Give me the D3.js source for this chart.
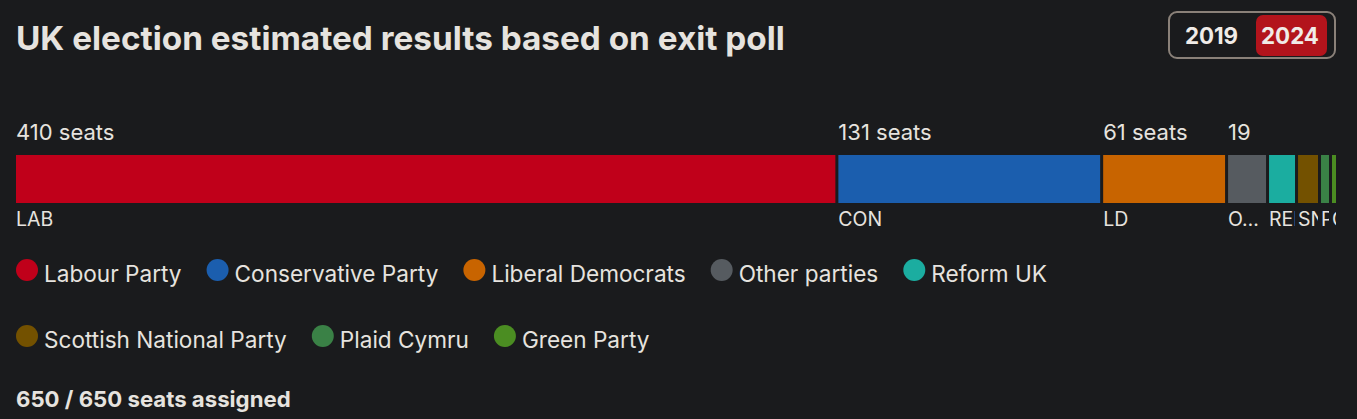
<!DOCTYPE html>
<html>
<head>
<meta charset="utf-8">
<script src="https://cdn.jsdelivr.net/npm/d3@7/dist/d3.min.js"></script>
<style>
  html, body { margin: 0; padding: 0; background: #1a1b1d; }
  svg { display: block; }
  text { font-family: Inter, "Noto Sans", sans-serif; }
</style>
</head>
<body>
<svg id="chart" width="1357" height="419"></svg>
<script>
// ---- data ----
const parties = ["Labour Party", "Conservative Party", "Liberal Democrats", "Other parties", "Reform UK", "Scottish National Party", "Plaid Cymru", "Green Party"];
const abbrevs = ["LAB", "CON", "LD", "OTH", "REF", "SNP", "PC", "GRN"];
const seats = [410, 131, 61, 19, 13, 10, 4, 2];
const colors = ["#c0001a", "#1b5eae", "#c86400", "#565b60", "#1bada0", "#735100", "#3a8146", "#4b8d22"];
const years = ["2019", "2024"];
const activeYear = "2024";
const totalSeats = 650;
const titleText = "UK election estimated results based on exit poll";

// ---- layout ----
const W = 1357;
const left = 16, barWidth = 1320, gap = 3;
const barTop = 155, barH = 48;
const txt = "#e6e3df";

const svg = d3.select("#chart");
svg.append("rect").attr("width", W).attr("height", 419).attr("fill", "#1a1b1d");

// title
svg.append("text").attr("x", 16).attr("y", 50)
  .attr("font-size", 33.3).attr("font-weight", 700).attr("fill", txt)
  .text(titleText);

// year toggle
const tg = svg.append("g");
tg.append("rect").attr("x", 1169).attr("y", 12).attr("width", 166).attr("height", 46)
  .attr("rx", 8).attr("fill", "none").attr("stroke", "#8a8179").attr("stroke-width", 2);
const btnX = d3.scaleBand().domain(years).range([1172, 1330]);
years.forEach(y => {
  const active = y === activeYear;
  if (active) {
    tg.append("rect").attr("x", btnX(y) + 5).attr("y", 15).attr("width", btnX.bandwidth() - 8).attr("height", 41)
      .attr("rx", 7).attr("fill", "#b3141c");
  }
  tg.append("text").attr("x", btnX(y) + btnX.bandwidth() / 2 - (active ? 0.5 : 0)).attr("y", 44)
    .attr("text-anchor", "middle").attr("font-size", 22.3).attr("font-weight", 700)
    .attr("fill", "#f0ece8").text(y);
});

// bar scale
const x = d3.scaleLinear().domain([0, totalSeats]).range([0, barWidth - gap * (seats.length - 1)]);
let acc = 0;
const segs = seats.map((s, i) => {
  const x0 = left + x(acc) + gap * i;
  acc += s;
  return { i, s, x0, w: x(s) };
});

const defs = svg.append("defs");
const bars = svg.append("g");
segs.forEach(d => {
  bars.append("rect").attr("x", d.x0).attr("y", barTop).attr("width", d.w).attr("height", barH)
    .attr("fill", colors[d.i]);
  defs.append("clipPath").attr("id", "clip" + d.i)
    .append("rect").attr("x", d.x0).attr("y", 100).attr("width", d.w).attr("height", 140);
});

// top labels
segs.forEach(d => {
  const t = bars.append("text").attr("x", d.x0).attr("y", 140)
    .attr("font-size", 22).attr("fill", txt)
    .text(d.s + " seats");
  if (t.node().getComputedTextLength() > d.w - 4) {
    t.text(String(d.s));
    if (t.node().getComputedTextLength() > d.w - 8) t.remove();
  }
});

// bottom labels (clipped to their segment, ellipsis where there is room)
segs.forEach(d => {
  const t = bars.append("text").attr("x", d.x0).attr("y", 226)
    .attr("font-size", 19.5).attr("fill", txt)
    .attr("clip-path", "url(#clip" + d.i + ")")
    .text(abbrevs[d.i]);
  if (t.node().getComputedTextLength() > d.w && d.w >= 30) {
    const full = abbrevs[d.i];
    let n = full.length - 1;
    while (n > 1) {
      t.text(full.slice(0, n) + "…");
      if (t.node().getComputedTextLength() <= d.w) break;
      n--;
    }
    t.text(full.slice(0, n) + "…");
  }
});

// legend
const lg = svg.append("g");
const rowY = [270, 336];
let lx = left, row = 0;
parties.forEach((p, i) => {
  const t = lg.append("text").attr("font-size", 22.6).attr("fill", txt).text(p);
  const tw = t.node().getComputedTextLength();
  const itemW = 22 + 6 + tw;
  if (lx + itemW > left + barWidth) { row++; lx = left; }
  lg.append("circle").attr("cx", lx + 11).attr("cy", rowY[row]).attr("r", 11).attr("fill", colors[i]);
  t.attr("x", lx + 28).attr("y", rowY[row] + 12);
  lx += itemW + 25;
});

// summary
svg.append("text").attr("x", 16).attr("y", 407)
  .attr("font-size", 22.2).attr("font-weight", 700).attr("fill", txt)
  .text(d3.sum(seats) + " / " + totalSeats + " seats assigned");
</script>
</body>
</html>
